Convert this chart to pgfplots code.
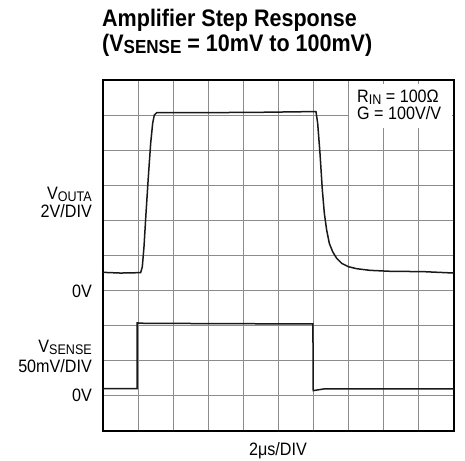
\documentclass[border=0pt]{standalone}
\usepackage{pgfplots}
\pgfplotsset{compat=1.18}
\usepackage{fontspec}
\setmainfont{Liberation Sans}[FakeStretch=0.9]
\newcommand{\lbl}{\fontsize{18}{20}\selectfont}
\newcommand{\sub}[1]{\raisebox{-0.15ex}{\fontsize{14}{14}\selectfont #1}}

\pgfplotstableread{
x y
0 4.52
0.5 4.50
1.0 4.51
1.073 4.51
1.12 4.68
1.168 5.25
1.225 6.20
1.292 7.245
1.358 8.196
1.415 8.766
1.462 9.003
1.53 9.07
3.0 9.07
4.5 9.08
6.0 9.10
6.068 9.10
6.116 8.766
6.182 7.91
6.249 6.866
6.306 6.20
6.372 5.726
6.448 5.346
6.543 5.108
6.657 4.92
6.80 4.776
6.99 4.681
7.227 4.624
7.607 4.577
8.177 4.55
9.13 4.54
10 4.50
}\vouta

\pgfplotstableread{
x y
0 1.21
0.97 1.21
0.97 3.08
1.1 3.07
3.0 3.06
5.98 3.05
5.99 1.15
6.05 1.16
6.3 1.20
10 1.20
}\vsense

\begin{document}
\begin{tikzpicture}
\path[use as bounding box] (0,0) rectangle (465bp,461bp);
\begin{axis}[
    at={(103bp,30bp)}, anchor=south west,
    width=351bp, height=351bp, scale only axis,
    xmin=0, xmax=10, ymin=0, ymax=10,
    xtick={0,...,10}, ytick={0,...,10},
    xticklabels={}, yticklabels={},
    major tick length=0pt,
    grid=major,
    grid style={color=black!45, line width=0.9bp},
    axis line style={line width=1.3bp},
    clip=false,
]
\addplot[black!90, line width=1.5bp] table {\vouta};
\addplot[black!90, line width=1.5bp] table {\vsense};
\node[fill=white, inner sep=0pt, minimum width=103bp, minimum height=44bp,
      anchor=north west] at (axis cs:7.01,9.89) {};
\end{axis}
% annotation
\node[anchor=base west, inner sep=0pt] at (357bp,358bp) {\lbl R\sub{IN} = 100Ω};
\node[anchor=base west, inner sep=0pt] at (357bp,341bp) {\lbl G = 100V/V};
% left labels
\node[anchor=base east, inner sep=0pt] at (92bp,261bp) {\lbl V\sub{OUTA}};
\node[anchor=base east, inner sep=0pt] at (92bp,243.5bp) {\lbl 2V/DIV};
\node[anchor=base east, inner sep=0pt] at (92bp,163bp) {\lbl 0V};
\node[anchor=base east, inner sep=0pt] at (92bp,108bp) {\lbl V\sub{SENSE}};
\node[anchor=base east, inner sep=0pt] at (92bp,88bp) {\lbl 50mV/DIV};
\node[anchor=base east, inner sep=0pt] at (92bp,59.3bp) {\lbl 0V};
% bottom
\node[anchor=base, inner sep=0pt] at (278bp,6bp) {\lbl 2μs/DIV};
% title
\node[anchor=base west, inner sep=0pt] at (102bp,434.3bp)
  {\fontsize{24}{26}\selectfont\bfseries Amplifier Step Response};
\node[anchor=base west, inner sep=0pt] at (102bp,409.3bp)
  {\fontsize{24}{26}\selectfont\bfseries (V\raisebox{-0.15ex}{\fontsize{19}{19}\selectfont\bfseries SENSE} = 10mV to 100mV)};
\end{tikzpicture}
\end{document}
